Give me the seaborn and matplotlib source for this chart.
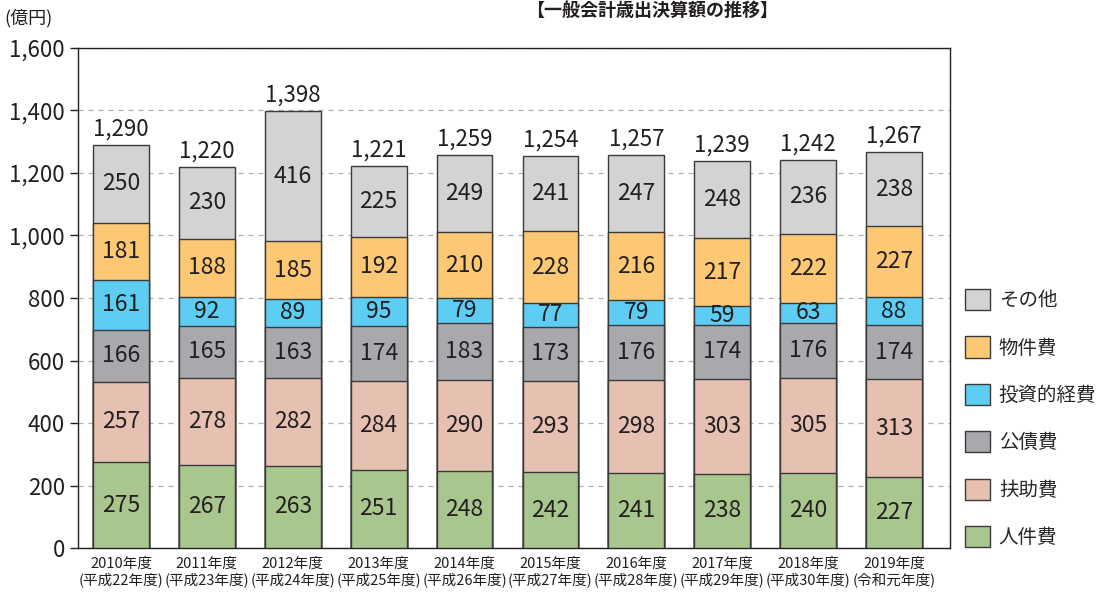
import seaborn as sns
import matplotlib.pyplot as plt
import pandas as pd
import numpy as np
from matplotlib.patches import Patch

# data (億円)
years = ["2010年度\n(平成22年度)", "2011年度\n(平成23年度)", "2012年度\n(平成24年度)",
         "2013年度\n(平成25年度)", "2014年度\n(平成26年度)", "2015年度\n(平成27年度)",
         "2016年度\n(平成28年度)", "2017年度\n(平成29年度)", "2018年度\n(平成30年度)",
         "2019年度\n(令和元年度)"]
jinkenhi = [275, 267, 263, 251, 248, 242, 241, 238, 240, 227]
fujohi = [257, 278, 282, 284, 290, 293, 298, 303, 305, 313]
kosaihi = [166, 165, 163, 174, 183, 173, 176, 174, 176, 174]
toshiteki = [161, 92, 89, 95, 79, 77, 79, 59, 63, 88]
bukkenhi = [181, 188, 185, 192, 210, 228, 216, 217, 222, 227]
sonota = [250, 230, 416, 225, 249, 241, 247, 248, 236, 238]
totals = [1290, 1220, 1398, 1221, 1259, 1254, 1257, 1239, 1242, 1267]

series = ["人件費", "扶助費", "公債費", "投資的経費", "物件費", "その他"]
values = [jinkenhi, fujohi, kosaihi, toshiteki, bukkenhi, sonota]
colors = ["#a9c68f", "#e6c0b1", "#a7a9ac", "#5dcdf3", "#fdc873", "#d1d3d4"]

sns.set_style("white")
plt.rcParams['font.family'] = ['Noto Sans CJK JP', 'DejaVu Sans']

fig = plt.figure(figsize=(11.05, 5.99), dpi=100)
ax = fig.add_axes([0.0706, 0.085, 0.789, 0.835])

cum = np.cumsum(np.array(values), axis=0)
# draw from the top layer down so lower layers sit over upper ones
for i in range(len(series) - 1, -1, -1):
    df = pd.DataFrame({"year": years, "v": cum[i]})
    sns.barplot(data=df, x="year", y="v", color=colors[i], width=0.65,
                edgecolor="#3a3a3a", linewidth=1.0, saturation=1, ax=ax, zorder=3)

for j in range(len(years)):
    for i in range(len(series)):
        base = cum[i - 1][j] if i > 0 else 0
        ax.text(j, base + values[i][j] / 2, str(values[i][j]), ha="center", va="center",
                fontsize=16.5, color="#231f20", zorder=5)
    ax.text(j, totals[j] + 14, f"{totals[j]:,}", ha="center", va="bottom",
            fontsize=16, color="#231f20", zorder=5)

ax.set_ylim(0, 1600)
ax.set_xlim(-0.5, 9.65)
ax.set_yticks(range(0, 1601, 200))
ax.set_yticklabels([f"{v:,}" for v in range(0, 1601, 200)], fontsize=16, color="#231f20")
ax.tick_params(axis="x", labelsize=10.5, length=0, pad=6, colors="#231f20")
ax.tick_params(axis="y", left=True, length=6, width=1, direction="out", colors="#231f20")
ax.set_xlabel("")
ax.set_ylabel("")
ax.yaxis.grid(True, linestyle=(0, (4, 4)), color="#b0b0b0", linewidth=0.9, zorder=0)
ax.set_axisbelow(True)
for s in ax.spines.values():
    s.set_color("#231f20")
    s.set_linewidth(1.0)

fig.text(0.004, 0.97, "(億円)", fontsize=13, color="#231f20", ha="left", va="center")
fig.text(0.59, 0.999, "【一般会計歳出決算額の推移】", fontsize=13, fontweight="bold",
         color="#231f20", ha="center", va="top")

handles = [Patch(facecolor=colors[i], edgecolor="#3a3a3a", label=series[i])
           for i in range(len(series) - 1, -1, -1)]
ax.legend(handles=handles, loc="lower left", bbox_to_anchor=(0.997, -0.035), frameon=False,
          fontsize=14, handlelength=1.3, handleheight=1.3, labelspacing=1.3,
          handletextpad=0.45)

plt.savefig("out.png", dpi=100)
